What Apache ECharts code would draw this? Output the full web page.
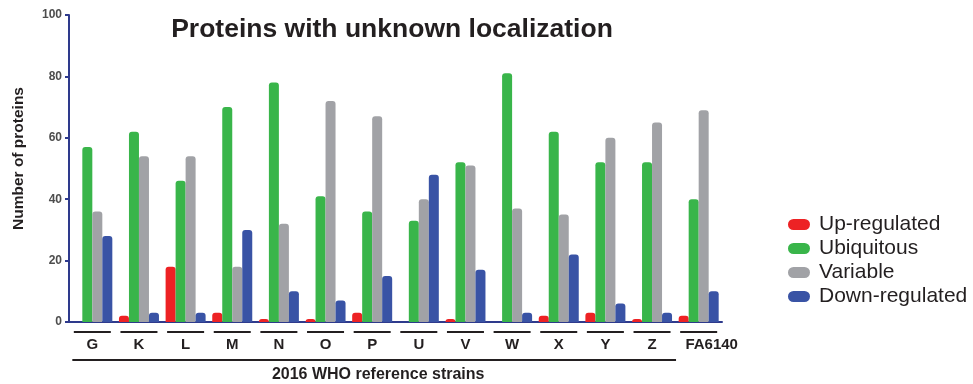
<!DOCTYPE html>
<html><head><meta charset="utf-8">
<script src="https://cdn.jsdelivr.net/npm/echarts@6/dist/echarts.min.js"></script>
<style>html,body{margin:0;padding:0;background:#fff}#c{width:973px;height:384px}</style>
</head><body><div id="c"></div>
<script>
const categories = ['G','K','L','M','N','O','P','U','V','W','X','Y','Z','FA6140'];
const upRegulated   = [0, 2, 18, 3, 1, 1, 3, 0, 1, 0, 2, 3, 1, 2];
const ubiquitous    = [57, 62, 46, 70, 78, 41, 36, 33, 52, 81, 62, 52, 52, 40];
const variable      = [36, 54, 54, 18, 32, 72, 67, 40, 51, 37, 35, 60, 65, 69];
const downRegulated = [28, 3, 3, 30, 10, 7, 15, 48, 17, 3, 22, 6, 3, 10];
const yTicks = [0, 20, 40, 60, 80, 100];
const groupFirst = 'G', groupLast = 'Z';
const groupLabel = '2016 WHO reference strains';

const navy = '#2e3a8c';
const colors = ['#ed2224', '#39b54a', '#a1a2a6', '#3953a5'];
const pill = 'path://M5.5,0 H16.5 A5.5,5.5 0 0 1 16.5,11 H5.5 A5.5,5.5 0 0 1 5.5,0 Z';
const chart = echarts.init(document.getElementById('c'));
const mk = (name, data, i) => ({
  name, type: 'bar', data, barWidth: 10, barGap: '0%',
  itemStyle: { color: colors[i], borderRadius: [3, 3, 0, 0] }
});
chart.setOption({
  animation: false,
  title: {
    text: 'Proteins with unknown localization', left: 387, top: 11, textAlign: 'center',
    textStyle: { fontFamily: 'Liberation Sans', fontWeight: 'bold', fontSize: 26.5, color: '#231f20' }
  },
  legend: {
    orient: 'vertical', left: 783, top: 209, itemWidth: 22, itemHeight: 11, itemGap: 3,
    icon: pill,
    textStyle: { fontFamily: 'Liberation Sans', fontSize: 21, color: '#231f20', lineHeight: 21, padding: [0, 0, 0, 4] },
    data: ['Up-regulated', 'Ubiquitous', 'Variable', 'Down-regulated']
  },
  grid: { left: 69, right: 251, top: 15, bottom: 62 },
  xAxis: {
    type: 'category', data: categories,
    axisLine: { lineStyle: { color: navy, width: 2 } },
    axisTick: { show: false },
    axisLabel: {
      interval: 0, margin: 9,
      formatter: (v, i) => '{l|}\n{' + (i === categories.length - 1 ? 'f' : 'n') + '|' + v + '}',
      rich: {
        l: { width: 37, height: 2, lineHeight: 2, backgroundColor: '#231f20' },
        n: { fontFamily: 'Liberation Sans', fontWeight: 'bold', fontSize: 15, lineHeight: 24, color: '#231f20' },
        f: { fontFamily: 'Liberation Sans', fontWeight: 'bold', fontSize: 15, lineHeight: 24, color: '#231f20', padding: [0, 0, 0, 26] }
      }
    }
  },
  yAxis: {
    type: 'value', min: yTicks[0], max: yTicks[yTicks.length - 1], interval: yTicks[1] - yTicks[0],
    name: 'Number of proteins', nameLocation: 'middle', nameGap: 42,
    nameTextStyle: { fontFamily: 'Liberation Sans', fontWeight: 'bold', fontSize: 15.5, color: '#231f20', padding: [0, 0, 0, 20] },
    axisLine: { show: true, lineStyle: { color: navy, width: 2 } },
    axisTick: { show: true, length: 4, lineStyle: { color: navy, width: 2 } },
    axisLabel: { margin: 7, fontFamily: 'Liberation Sans', fontWeight: 'bold', fontSize: 12, color: '#4d4d4d' },
    splitLine: { show: false }
  },
  series: [
    mk('Up-regulated', upRegulated, 0),
    mk('Ubiquitous', ubiquitous, 1),
    mk('Variable', variable, 2),
    mk('Down-regulated', downRegulated, 3)
  ]
});
const x0 = chart.convertToPixel({ xAxisIndex: 0 }, groupFirst);
const x1 = chart.convertToPixel({ xAxisIndex: 0 }, groupLast);
const y0 = chart.convertToPixel({ yAxisIndex: 0 }, 0);
const left = x0 - 20, right = x1 + 24;
chart.setOption({
  graphic: [
    { type: 'line', shape: { x1: left, y1: y0 + 38, x2: right, y2: y0 + 38 }, style: { stroke: '#231f20', lineWidth: 2 } },
    { type: 'text', x: (left + right) / 2 + 4, y: y0 + 53, style: {
      text: groupLabel, textAlign: 'center', textVerticalAlign: 'middle',
      font: 'bold 16px "Liberation Sans"', fill: '#231f20' } }
  ]
});
</script></body></html>
